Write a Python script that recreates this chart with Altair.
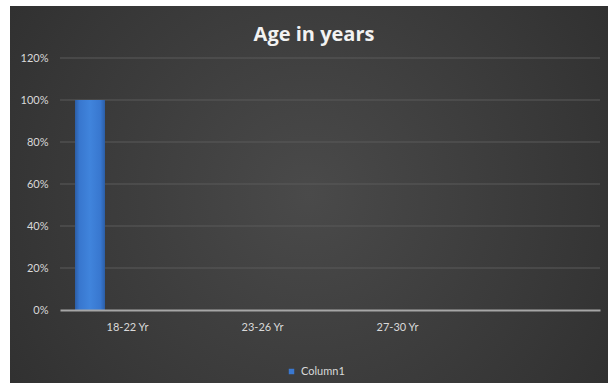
import altair as alt
import pandas as pd

categories = ["18-22 Yr", "23-26 Yr", "27-30 Yr"]
values = [1.00, 0.00, 0.00]
series_name = "Column1"
x_domain = categories + [" "]
y_ticks = [0.0, 0.2, 0.4, 0.6, 0.8, 1.0, 1.2]

df = pd.DataFrame({"age": categories, "share": values, "series": [series_name] * len(categories)})
grid_df = pd.DataFrame({"tick": y_ticks[1:]})

W, H = 540, 252
FONT = "Lato"

bg = alt.Chart(pd.DataFrame({"d": [0]})).mark_rect(
    clip=False,
    fill={
        "gradient": "radial",
        "x1": 0.5, "y1": 0.5, "x2": 0.5, "y2": 0.5, "r1": 0, "r2": 0.75,
        "stops": [
            {"offset": 0, "color": "#4a4a4a"},
            {"offset": 1, "color": "#2a2a2a"},
        ],
    },
).encode(
    x=alt.value(-50), x2=alt.value(548), y=alt.value(-52), y2=alt.value(325)
)

yscale = alt.Scale(domain=[0, 1.2])
yaxis = alt.Axis(
    title=None, values=y_ticks, format=".0%", domain=False, ticks=False,
    grid=False, labelColor="#d9d9d9", labelFont=FONT, labelFontSize=11,
    labelPadding=12, zindex=1,
)
xscale = alt.Scale(domain=x_domain, paddingInner=0, paddingOuter=0)
xaxis = alt.Axis(
    title=None, labelAngle=0, ticks=False, domainColor="#a6a6a6",
    domainWidth=2, labelColor="#d9d9d9", labelFont=FONT, labelFontSize=11,
    labelPadding=11, grid=False, zindex=1,
)

grid = alt.Chart(grid_df).mark_rule(color="#5a5a5a", strokeWidth=1).encode(
    y=alt.Y("tick:Q", scale=yscale, axis=yaxis),
    x=alt.value(0),
    x2=alt.value(W),
)

bars = alt.Chart(df).mark_bar(size=30, xOffset=-37.5).encode(
    x=alt.X("age:N", sort=x_domain, scale=xscale, axis=xaxis),
    y=alt.Y("share:Q", scale=yscale, axis=yaxis),
    color=alt.Color(
        "series:N",
        scale=alt.Scale(range=["#3a78d0"]),
        legend=alt.Legend(
            title=None, orient="none", legendX=226, legendY=308,
            symbolType="square", symbolSize=30, labelColor="#d9d9d9",
            labelFont=FONT, labelFontSize=11, zindex=1,
        ),
    ),
)

bars_shade = alt.Chart(df).mark_bar(
    size=30, xOffset=-37.5,
    fill={
        "gradient": "linear", "x1": 0, "y1": 0, "x2": 1, "y2": 0,
        "stops": [
            {"offset": 0, "color": "#2c5ea6"},
            {"offset": 0.15, "color": "#3877cf"},
            {"offset": 0.5, "color": "#4084dc"},
            {"offset": 0.85, "color": "#3877cf"},
            {"offset": 1, "color": "#2c5ea6"},
        ],
    },
).encode(
    x=alt.X("age:N", sort=x_domain, scale=xscale, axis=xaxis),
    y=alt.Y("share:Q", scale=yscale, axis=yaxis),
)

chart = alt.layer(bg, grid, bars, bars_shade).properties(
    width=W,
    height=H,
    autosize=alt.AutoSizeParams(type="none"),
    padding={"left": 60, "top": 58, "right": 8, "bottom": 73},
    title=alt.TitleParams(
        "Age in years", font="Open Sans", fontSize=20, fontWeight="bold",
        color="#f2f2f2", anchor="middle", dx=-16, dy=72, offset=17,
        baseline="alphabetic", frame="group", zindex=1,
    ),
).configure(background="white").configure_view(stroke=None)

chart.save("out.html", embed_options={"renderer": "svg", "actions": False})
